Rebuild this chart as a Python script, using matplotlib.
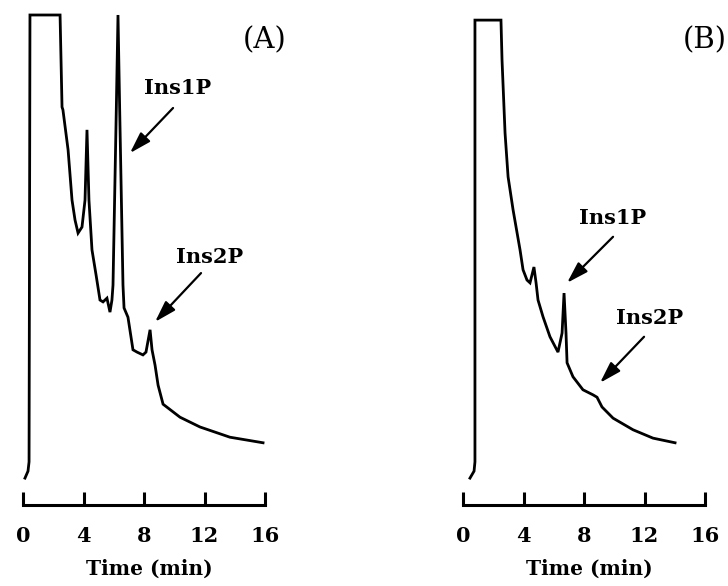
import matplotlib
matplotlib.use('Agg')
import matplotlib.pyplot as plt

# Chromatogram traces (time in min, detector signal in arbitrary units)
time_a = [0.13, 0.33, 0.40, 0.46, 2.45, 2.58, 2.64, 2.98, 3.24, 3.44, 3.64, 3.90, 4.10, 4.23,
          4.36, 4.56, 4.83, 5.09, 5.29, 5.55, 5.75, 5.88, 5.95, 6.17, 6.28, 6.39, 6.61, 6.68,
          6.94, 7.27, 7.54, 7.93, 8.13, 8.40, 8.53, 8.73, 8.93, 9.26, 10.38, 11.70, 13.68, 15.87]
signal_a = [0.4, 1.9, 3.9, 100.0, 100.0, 80.2, 79.6, 71.0, 60.2, 55.9, 53.1, 54.4, 60.2, 75.3,
            60.2, 49.5, 44.1, 38.7, 38.3, 39.1, 36.1, 38.7, 41.9, 80.0, 100.0, 80.0, 41.9, 37.0,
            35.0, 28.0, 27.5, 26.9, 27.5, 32.3, 28.0, 24.7, 20.4, 16.3, 13.5, 11.4, 9.2, 8.0]

time_b = [0.46, 0.73, 0.79, 0.79, 2.51, 2.58, 2.78, 2.98, 3.31, 3.77, 3.97, 4.23, 4.43, 4.69,
          4.83, 4.96, 5.29, 5.75, 6.28, 6.55, 6.68, 6.81, 6.88, 7.27, 7.93, 8.60, 8.86, 9.19,
          9.92, 11.24, 12.56, 14.02]
signal_b = [0.4, 1.9, 3.9, 98.9, 98.9, 90.3, 74.6, 65.2, 58.1, 49.5, 45.2, 43.0, 42.4, 45.8,
            42.4, 38.7, 35.1, 30.8, 27.5, 31.6, 40.2, 31.6, 25.2, 22.2, 19.4, 18.3, 17.8, 15.7,
            13.3, 10.8, 9.0, 8.0]

tick_values = [0, 4, 8, 12, 16]
panel_labels = ['(A)', '(B)']
peak_names = ['Ins1P', 'Ins2P']

# annotation anchors (label position, arrow tail, arrow head) for each panel
annot_a = [((10.25, 84.3), (9.92, 80.0), (7.07, 70.3)),
           ((12.36, 48.0), (11.77, 44.5), (8.73, 34.0))]
annot_b = [((9.92, 56.3), (9.92, 52.3), (6.88, 42.4)),
           ((12.36, 34.8), (11.97, 30.8), (9.06, 20.9))]

W, H = 728, 586
fig = plt.figure(figsize=(W / 100, H / 100), dpi=100)

serif = 'DejaVu Serif'
xlim = (-0.86, 17.5)
ylim = (-5.38, 102.15)
ax_w = (xlim[1] - xlim[0]) * 15.125


def draw_panel(left_px, t, s, annots, label):
    ax = fig.add_axes([left_px / W, (H - 505) / H, ax_w / W, 500 / H])
    ax.plot(t, s, color='black', lw=2.0, clip_on=False, solid_joinstyle='miter')
    ax.set_xlim(*xlim)
    ax.set_ylim(*ylim)
    for side in ['top', 'right', 'left']:
        ax.spines[side].set_visible(False)
    ax.spines['bottom'].set_linewidth(2.2)
    ax.spines['bottom'].set_bounds(0, 16)
    ax.set_yticks([])
    ax.set_xticks(tick_values)
    ax.set_xticklabels([str(v) for v in tick_values], fontfamily=serif,
                       fontweight='bold', fontsize=15)
    ax.tick_params(axis='x', direction='in', length=9.5, width=2.2, pad=15)
    ax.set_xlabel('Time (min)', fontfamily=serif, fontweight='bold', fontsize=14.5, labelpad=9)
    ax.patch.set_visible(False)

    for name, (lab, tail, head) in zip(peak_names, annots):
        ax.text(lab[0], lab[1], name, fontfamily=serif, fontweight='bold', fontsize=15,
                ha='center', va='center')
        ax.annotate('', xy=head, xytext=tail,
                    arrowprops=dict(arrowstyle='-|>,head_length=0.65,head_width=0.2',
                                    color='black', lw=1.6, mutation_scale=20,
                                    shrinkA=0, shrinkB=0))
    ax.text(16.0, 94.5, label, fontfamily=serif, fontsize=21, ha='center', va='center',
            clip_on=False)
    return ax


draw_panel(10, time_a, signal_a, annot_a, panel_labels[0])
draw_panel(450, time_b, signal_b, annot_b, panel_labels[1])

fig.savefig('out.png', dpi=100)
